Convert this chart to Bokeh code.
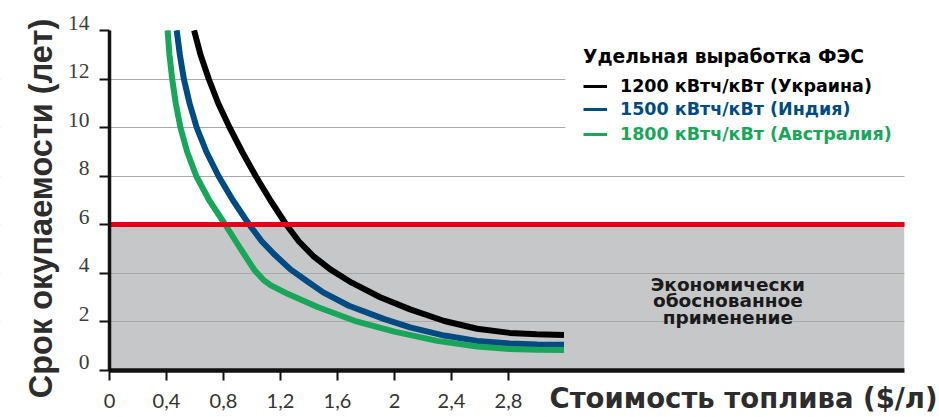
from math import pi
from bokeh.plotting import figure
from bokeh.models import (Range1d, FixedTicker, BoxAnnotation, Label, LabelSet,
                          ColumnDataSource, Legend, LegendItem)
from bokeh.embed import file_html
from bokeh.resources import INLINE

# ---- data ----
x_ukraine = [0.594, 0.639, 0.697, 0.763, 0.843, 0.931, 1.026, 1.129, 1.24, 1.33, 1.43, 1.55,
             1.70, 1.90, 2.11, 2.35, 2.58, 2.81, 3.00, 3.19]
y_ukraine = [14.0, 13.0, 12.0, 11.0, 10.0, 9.0, 8.0, 7.0, 6.0, 5.3, 4.7, 4.15,
             3.6, 3.0, 2.5, 2.02, 1.70, 1.53, 1.47, 1.44]

x_india = [0.472, 0.494, 0.522, 0.562, 0.612, 0.680, 0.765, 0.866, 0.98, 1.07, 1.16, 1.27,
           1.39, 1.50, 1.68, 1.93, 2.11, 2.35, 2.58, 2.81, 3.00, 3.19]
y_india = [14.0, 13.0, 12.0, 11.0, 10.0, 9.0, 8.0, 7.0, 6.0, 5.3, 4.75, 4.15,
           3.65, 3.2, 2.65, 2.1, 1.76, 1.42, 1.20, 1.09, 1.05, 1.04]

x_australia = [0.408, 0.421, 0.440, 0.465, 0.498, 0.545, 0.609, 0.700, 0.812, 0.92, 1.02, 1.08,
               1.13, 1.25, 1.46, 1.72, 2.00, 2.30, 2.58, 2.81, 3.00, 3.19]
y_australia = [14.0, 13.0, 12.0, 11.0, 10.0, 9.0, 8.0, 7.0, 6.0, 5.0, 4.1, 3.72,
               3.50, 3.14, 2.60, 2.03, 1.58, 1.20, 0.97, 0.87, 0.83, 0.82]

series_labels = ["1200 кВтч/кВт (Украина)", "1500 кВтч/кВт (Индия)", "1800 кВтч/кВт (Австралия)"]
series_colors = ["#000000", "#004b82", "#1aa65a"]
legend_title = "Удельная выработка ФЭС"

payback_limit = 6
x_max = 5.58
y_max = 14

x_ticks = [0, 0.4, 0.8, 1.2, 1.6, 2, 2.4, 2.8]
x_tick_labels = ["0", "0,4", "0,8", "1,2", "1,6", "2", "2,4", "2,8"]
y_ticks = [0, 2, 4, 6, 8, 10, 12, 14]
y_tick_labels = ["0", "2", "4", "6", "8", "10", "12", "14"]
grid_ticks = [2, 4, 6, 8, 10, 12]

x_title = "Стоимость топлива ($/л)"
y_title = "Срок окупаемости (лет)"
zone_text = "Экономически\nобоснованное\nприменение"

# ---- layout constants (pixels) ----
W, H = 939, 415
PX_X, PX_Y = 142.5, 24.25          # pixels per data unit
LEFT_PAD, RIGHT_PAD = 109, 35       # space left of x=0 and right of x_max
TOP_PAD, BOTTOM_PAD = 30, 45.5      # space above y_max and below y=0

x_range = Range1d(-LEFT_PAD / PX_X, x_max + RIGHT_PAD / PX_X)
y_range = Range1d(-BOTTOM_PAD / PX_Y, y_max + TOP_PAD / PX_Y)

p = figure(width=W, height=H, x_range=x_range, y_range=y_range,
           output_backend="svg", toolbar_location=None, min_border=0)
p.outline_line_color = None
p.background_fill_color = "white"

# economically justified zone
p.add_layout(BoxAnnotation(left=0, right=x_max, bottom=0, top=payback_limit,
                           fill_color="#c6c7c9", fill_alpha=1.0, line_color=None,
                           level="image"))

# grid
p.xgrid.visible = False
p.ygrid.ticker = FixedTicker(ticks=grid_ticks)
p.ygrid.grid_line_color = "#a9a9a9"
p.ygrid.grid_line_width = 1

# keep grid lines inside the plotting area (and out of the legend)
curve_end = max(x_ukraine + x_india + x_australia) + 0.01
for kw in (dict(right=0), dict(left=x_max), dict(left=curve_end, bottom=9, top=13.5)):
    p.add_layout(BoxAnnotation(fill_color="white", fill_alpha=1.0, line_color=None,
                               level="underlay", **kw))

# axes drawn at the data origin
p.xaxis.fixed_location = 0
p.yaxis.fixed_location = 0
p.xaxis.bounds = (0, x_max)
p.yaxis.bounds = (0, y_max)
p.xaxis.ticker = FixedTicker(ticks=x_ticks)
p.xaxis.major_label_overrides = dict(zip(x_ticks, x_tick_labels))
p.yaxis.ticker = FixedTicker(ticks=y_ticks)
for ax in (p.xaxis, p.yaxis):
    ax.axis_line_color = "#111111"
    ax.major_tick_line_color = "#111111"
    ax.major_tick_line_width = 2
    ax.major_tick_out = 10
    ax.major_tick_in = 0
    ax.minor_tick_line_color = None
p.xaxis.axis_line_width = 4.5
p.yaxis.axis_line_width = 3.5
p.xaxis.major_label_text_font = "Lato"
p.xaxis.major_label_text_font_size = "20px"
p.xaxis.major_label_text_color = "#333333"
p.xaxis.major_label_standoff = 14
p.yaxis.major_label_text_color = None

# y tick labels (drawn slightly above their ticks, as in the reference)
ysrc = ColumnDataSource(dict(x=[0] * len(y_ticks), y=y_ticks, t=y_tick_labels))
p.add_layout(LabelSet(x="x", y="y", text="t", source=ysrc, x_offset=-20, y_offset=8,
                      text_align="right", text_baseline="middle",
                      text_font="Liberation Sans", text_font_size="21.5px",
                      text_color="#3c3c3c"))

# curves (thin copies underneath serve as legend samples)
legend_renderers = []
for xs, ys, c in zip((x_ukraine, x_india, x_australia),
                     (y_ukraine, y_india, y_australia), series_colors):
    legend_renderers.append(p.line(xs, ys, line_width=3, line_color=c))
for xs, ys, c in zip((x_ukraine, x_india, x_australia),
                     (y_ukraine, y_india, y_australia), series_colors):
    p.line(xs, ys, line_width=6, line_color=c)

# threshold line
p.segment(x0=[0], y0=[payback_limit], x1=[x_max], y1=[payback_limit],
          line_color="#e2001a", line_width=5)

# legends (one per item so each label keeps its own colour)
legend_pos = [(583, 319), (583, 296), (583, 271)]
for i, (lab, c) in enumerate(zip(series_labels, series_colors)):
    leg = Legend(items=[LegendItem(label=lab, renderers=[legend_renderers[i]])],
                 location=legend_pos[i],
                 padding=0, margin=0, spacing=0, glyph_width=24, glyph_height=20,
                 label_standoff=13, label_height=20,
                 label_text_font="DejaVu Sans", label_text_font_style="bold",
                 label_text_font_size="17.5px", label_text_color=c,
                 border_line_color=None, background_fill_alpha=0)
    if i == 0:
        leg.title = legend_title
        leg.title_text_font = "DejaVu Sans"
        leg.title_text_font_style = "bold"
        leg.title_text_font_size = "18.7px"
        leg.title_text_color = "#000000"
        leg.title_standoff = 9
    p.add_layout(leg)

# zone caption
p.add_layout(Label(x=4.34, y=2.86, text=zone_text, text_align="center",
                   text_baseline="middle", text_font="DejaVu Sans",
                   text_font_style="bold", text_font_size="18.5px",
                   text_line_height=0.78, text_color="#1a1a1a"))

# axis titles
p.add_layout(Label(x=-0.484, y=6.66, text=y_title, angle=pi / 2, text_align="center",
                   text_baseline="middle", text_font="Liberation Sans",
                   text_font_style="bold", text_font_size="32.5px", text_color="#2d2d2d"))
p.add_layout(Label(x=3.088, y=-1.175, text=x_title, text_align="left",
                   text_baseline="middle", text_font="DejaVu Sans",
                   text_font_style="bold", text_font_size="27.5px", text_color="#2d2d2d"))

open("out.html", "w").write(file_html(p, INLINE))
